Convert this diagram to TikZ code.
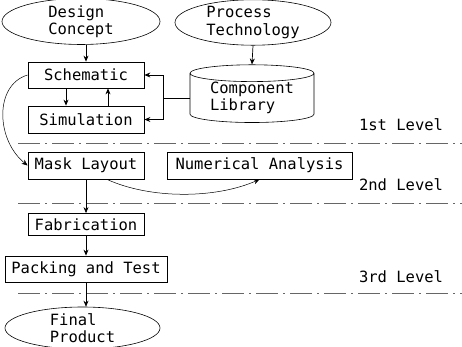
\documentclass[tikz,border=0pt]{standalone}
\usepackage{fontspec}
\setmonofont{DejaVu Sans Mono}
\usetikzlibrary{shapes.geometric,arrows.meta}

\begin{document}
\begin{tikzpicture}[x=1pt,y=-1pt,
    every node/.style={font=\ttfamily\fontsize{15.5}{17.5}\selectfont},
    stagebox/.style={shape=rectangle,draw,line width=0.8pt,inner sep=0pt},
    sourceball/.style={shape=ellipse,draw,line width=0.6pt,inner sep=0pt,align=left},
    arr/.style={-{Stealth[length=6pt,width=5pt]},line width=0.7pt},
    levelline/.style={draw=black!60,line width=0.8pt,dash pattern=on 22pt off 5pt on 2pt off 5pt}]
    \useasboundingbox (0,0) rectangle (462,347);
    \node[sourceball,minimum width=158pt,minimum height=43pt] (design) at (81,21.5) {Design\\Concept};
    \node[sourceball,minimum width=156pt,minimum height=45pt] (process) at (253,22.5) {Process\\Technology};
    \node[stagebox,minimum width=116pt,minimum height=26pt] (schematic) at (86,75) {Schematic};
    \node[stagebox,minimum width=116pt,minimum height=27pt] (simulation) at (86,119.5) {Simulation};
    \node[shape=cylinder,shape border rotate=90,draw,line width=0.6pt,aspect=0.2,
          minimum width=124pt,minimum height=46pt,inner sep=0pt,align=left] (library) at (252,98) {Component\\Library};
    \node[stagebox,minimum width=116pt,minimum height=27pt] (mask) at (86,165.5) {Mask Layout};
    \node[stagebox,minimum width=185pt,minimum height=27pt] (numerical) at (259.5,165.5) {Numerical Analysis};
    \node[stagebox,minimum width=116pt,minimum height=22pt] (fabrication) at (86,224.5) {Fabrication};
    \node[stagebox,minimum width=162pt,minimum height=26pt] (packing) at (86,269) {Packing and Test};
    \node[sourceball,minimum width=155pt,minimum height=42pt] (final) at (82.5,328) {Final\\Product};
    % levels
    \node (lvlone) at (401,125) {1st Level};
    \node (lvltwo) at (401,185) {2nd Level};
    \node (lvlthree) at (401,277) {3rd Level};
    \draw[levelline] (18,143) -- (462,143);
    \draw[levelline] (18,203) -- (462,203);
    \draw[levelline] (18,293) -- (462,293);
    % flow
    \draw[arr] (design.south -| schematic.north) -- (schematic.north);
    \draw[arr] (process.south) -- (library.north);
    \draw[arr] ([xshift=-20pt]schematic.south) -- ([xshift=-20pt]simulation.north);
    \draw[arr] ([xshift=22pt]simulation.north) -- ([xshift=22pt]schematic.south);
    \draw[line width=0.7pt] (library.west) -- ++(-26,0) coordinate (bus);
    \draw[arr] (bus) |- (schematic.east);
    \draw[arr] (bus) |- (simulation.east);
    \draw[arr,line width=0.5pt] (schematic.west) .. controls (-6,85) and (-4,140) .. (mask.west);
    \draw[arr,line width=0.5pt] ([xshift=21pt]mask.south) .. controls (150,199) and (215,199) .. (numerical.south);
    \draw[arr] (mask.south) -- (fabrication.north);
    \draw[arr] (fabrication.south) -- (packing.north);
    \draw[arr] (packing.south) -- (packing.south |- final.north);
\end{tikzpicture}
\end{document}
